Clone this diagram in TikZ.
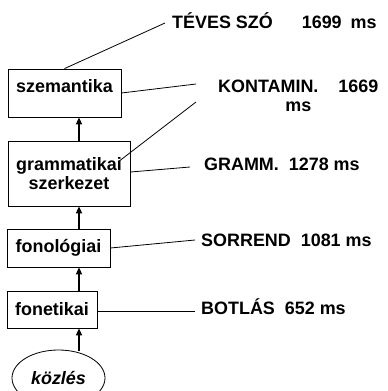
\documentclass[tikz,border=0pt]{standalone}
\usepackage{fontspec}
\setmainfont{Liberation Sans}
\usetikzlibrary{shapes.geometric,arrows.meta}
\begin{document}
\begin{tikzpicture}[x=1bp,y=-1bp,
  font=\fontsize{18}{19}\selectfont\bfseries,
  box/.style={draw,line width=0.8bp,inner sep=0pt,align=center},
  uparrow/.style={-{Triangle[length=7bp,width=6bp]},line width=2bp},
  lnk/.style={line width=0.8bp},
  lab/.style={inner sep=0pt,anchor=west}]
\useasboundingbox (0,0) rectangle (388,391);
% boxes
\node[box,minimum width=113bp,minimum height=48bp,text height=12bp,text depth=14bp] (szem) at (64.5,93) {szemantika};
\node[box,minimum width=122bp,minimum height=65bp] (gram) at (69,173.5) {grammatikai\\szerkezet};
\node[box,minimum width=103bp,minimum height=38bp] (fonol) at (58.5,248) {fonológiai};
\node[box,minimum width=90bp,minimum height=37bp] (fonet) at (52,309.5) {fonetikai};
\node[draw,ellipse,line width=0.8bp,minimum width=93bp,minimum height=56bp,inner sep=0pt,font=\fontsize{18}{19}\selectfont\bfseries\itshape] (kozl) at (58.5,378) {közlés};
% labels
\node[lab] (teves) at (172,21) {TÉVES SZÓ\hspace{29bp}1699\hspace{4bp} ms};
\node[lab,align=center] (kont) at (218,96) {KONTAMIN.\hspace{20bp}1669\\ms};
\node[lab] (gramm) at (204,164) {GRAMM.\hspace{5bp} 1278 ms};
\node[lab] (sorr) at (201,240) {SORREND\hspace{5bp} 1081 ms};
\node[lab] (botl) at (201,307) {BOTLÁS\hspace{5bp} 652 ms};
% free ends of connectors
\coordinate (cT) at (165,23);
\coordinate (cK1) at (196,84);
\coordinate (cK2) at (196,102);
\coordinate (cG) at (190,167);
\coordinate (cS) at (195,240);
\coordinate (cB) at (195,311);
\coordinate (gin) at (118,162);
% connectors
\draw[lnk] (szem.north) -- (cT);
\draw[lnk] (szem.east |- 0,93) -- (cK1);
\draw[lnk] (gin) -- (cK2);
\draw[lnk] (gram.east |- 0,172) -- (cG);
\draw[lnk] (fonol.east |- 0,248) -- (cS);
\draw[lnk] (fonet.east |- 0,311) -- (cB);
% arrows
\draw[uparrow] (gram.north -| 79,0) -- (szem.south -| 79,0);
\draw[uparrow] (fonol.north -| 79,0) -- (gram.south -| 79,0);
\draw[uparrow] (fonet.north -| 79,0) -- (fonol.south -| 79,0);
\draw[uparrow] (kozl.north -| 79,0) ++(0,1) -- (fonet.south -| 79,0);
\end{tikzpicture}
\end{document}
